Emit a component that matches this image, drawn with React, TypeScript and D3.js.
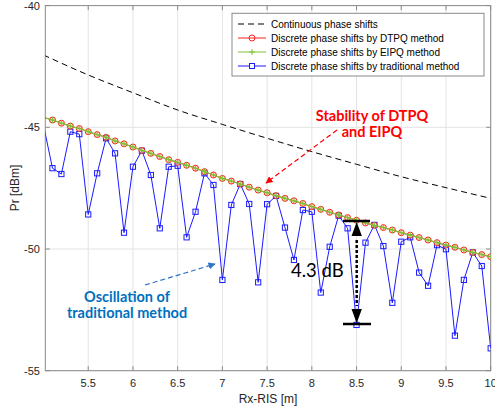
import React from "react";
import * as d3 from "d3";

const xValues = [5.0,5.1,5.2,5.3,5.4,5.5,5.6,5.7,5.8,5.9,6.0,6.1,6.2,6.3,6.4,6.5,6.6,6.7,6.8,6.9,7.0,7.1,7.2,7.3,7.4,7.5,7.6,7.7,7.8,7.9,8.0,8.1,8.2,8.3,8.4,8.5,8.6,8.7,8.8,8.9,9.0,9.1,9.2,9.3,9.4,9.5,9.6,9.7,9.8,9.9,10.0];

const traditional = [-44.91,-46.68,-46.92,-45.18,-45.28,-48.58,-46.89,-45.45,-46.07,-49.33,-46.62,-45.96,-46.96,-49.15,-46.62,-46.58,-49.52,-48.47,-46.89,-47.37,-51.27,-48.19,-47.33,-48.15,-51.37,-48.16,-47.82,-49.12,-50.45,-48.40,-48.47,-51.79,-49.91,-48.63,-49.15,-53.12,-49.74,-49.01,-49.88,-52.21,-49.70,-49.52,-50.97,-51.51,-49.84,-50.01,-53.56,-51.27,-50.14,-50.70,-54.08];

const dtpq = [-44.59,-44.70,-44.83,-44.95,-45.05,-45.18,-45.30,-45.41,-45.56,-45.68,-45.81,-45.95,-46.07,-46.20,-46.33,-46.44,-46.56,-46.68,-46.82,-46.96,-47.10,-47.21,-47.33,-47.46,-47.58,-47.69,-47.81,-47.92,-48.02,-48.13,-48.26,-48.37,-48.49,-48.60,-48.71,-48.82,-48.93,-49.03,-49.12,-49.22,-49.33,-49.43,-49.53,-49.63,-49.74,-49.84,-49.93,-50.04,-50.14,-50.23,-50.32];

const eipq = [-44.59,-44.70,-44.83,-44.95,-45.05,-45.18,-45.30,-45.41,-45.56,-45.68,-45.81,-45.95,-46.07,-46.20,-46.33,-46.44,-46.56,-46.68,-46.82,-46.96,-47.10,-47.21,-47.33,-47.46,-47.58,-47.69,-47.81,-47.92,-48.02,-48.13,-48.26,-48.37,-48.49,-48.60,-48.71,-48.82,-48.93,-49.03,-49.12,-49.22,-49.33,-49.43,-49.53,-49.63,-49.74,-49.84,-49.93,-50.04,-50.14,-50.23,-50.32];

const contX = [5.0,5.5,6.0,6.5,7.0,7.5,8.0,8.5,9.0,9.5,10.0];
const continuous = [-42.03,-42.85,-43.58,-44.29,-44.88,-45.45,-46.0,-46.52,-47.03,-47.48,-47.92];

const xTicks = [5.5,6,6.5,7,7.5,8,8.5,9,9.5,10];
const yTicks = [-55,-50,-45,-40];
const xTickLabels = ["5.5","6","6.5","7","7.5","8","8.5","9","9.5","10"];
const yTickLabels = ["-55","-50","-45","-40"];

const legendLabels = [
  "Continuous phase shifts",
  "Discrete phase shifts by DTPQ method",
  "Discrete phase shifts by EIPQ method",
  "Discrete phase shifts by traditional method",
];

const W = 495, H = 413;
const L = 45.3, R = 490.7, T = 5.6, B = 370.7;
const BLUE = "#1a1aff", RED = "#ff2020", GREEN = "#7cc234";

export default function App() {
  const x = d3.scaleLinear().domain([5.02, 10]).range([L, R]);
  const y = d3.scaleLinear().domain([-55, -40]).range([B, T]);
  const pts = (ys: number[]) => xValues.map((xv, i) => [xv, ys[i]] as [number, number]);
  const line = d3.line<[number, number]>().x(d => x(d[0])).y(d => y(d[1]));
  const contLine = d3.line<[number, number]>().x(d => x(d[0])).y(d => y(d[1])).curve(d3.curveMonotoneX);
  const visible = (xv: number) => xv >= 5.02;
  const font = "'Liberation Sans', Arial, sans-serif";
  const annFont = "Lato, 'Open Sans', sans-serif";

  const legY = [24, 38, 52, 66];
  const lx0 = 238, lx1 = 266, lxm = 252;

  return (
    <svg width={W} height={H} style={{ position: "absolute", left: 0, top: 0, background: "#fff" }}>
      <defs>
        <clipPath id="plot"><rect x={L} y={T} width={R - L} height={B - T} /></clipPath>
        <marker id="arRed" viewBox="0 0 10 10" refX="9" refY="5" markerWidth="6" markerHeight="6" orient="auto">
          <path d="M0,0 L10,5 L0,10 z" fill="#ff0000" />
        </marker>
        <marker id="arBlue" viewBox="0 0 10 10" refX="9" refY="5" markerWidth="6" markerHeight="6" orient="auto">
          <path d="M0,0 L10,5 L0,10 z" fill="#2e75c6" />
        </marker>
      </defs>
      <rect x={0} y={0} width={W} height={H} fill="#fff" />
      {/* grid */}
      {xTicks.map(t => (
        <line key={"gx" + t} x1={x(t)} x2={x(t)} y1={T} y2={B} stroke="#e3e3e3" strokeWidth={1} />
      ))}
      {yTicks.map(t => (
        <line key={"gy" + t} x1={L} x2={R} y1={y(t)} y2={y(t)} stroke="#e3e3e3" strokeWidth={1} />
      ))}
      {/* axes box */}
      <rect x={L} y={T} width={R - L} height={B - T} fill="none" stroke="#8a8a8a" strokeWidth={1} />
      {xTicks.map(t => (
        <g key={"tx" + t}>
          <line x1={x(t)} x2={x(t)} y1={B} y2={B - 4.5} stroke="#8a8a8a" />
          <line x1={x(t)} x2={x(t)} y1={T} y2={T + 4.5} stroke="#8a8a8a" />
        </g>
      ))}
      {yTicks.map(t => (
        <g key={"ty" + t}>
          <line x1={L} x2={L + 4.5} y1={y(t)} y2={y(t)} stroke="#8a8a8a" />
          <line x1={R} x2={R - 4.5} y1={y(t)} y2={y(t)} stroke="#8a8a8a" />
        </g>
      ))}
      {xTicks.map((t, i) => (
        <text key={"lx" + t} x={x(t)} y={387} textAnchor="middle" fontFamily={font} fontSize={11} fill="#262626">{xTickLabels[i]}</text>
      ))}
      {yTicks.map((t, i) => (
        <text key={"ly" + t} x={40} y={y(t) + 4} textAnchor="end" fontFamily={font} fontSize={11} fill="#262626">{yTickLabels[i]}</text>
      ))}
      <text x={268} y={403} textAnchor="middle" fontFamily={font} fontSize={12} fill="#262626">Rx-RIS [m]</text>
      <text transform={`translate(19,188) rotate(-90)`} textAnchor="middle" fontFamily={font} fontSize={12} fill="#262626">Pr [dBm]</text>

      <g clipPath="url(#plot)">
        <path d={contLine(contX.map((c, i) => [c, continuous[i]] as [number, number])) || ""} fill="none" stroke="#000" strokeWidth={1} strokeDasharray="6,4" />
        <path d={line(pts(traditional)) || ""} fill="none" stroke={BLUE} strokeWidth={1} />
        {pts(traditional).filter(p => visible(p[0])).map((p, i) => (
          <rect key={"sq" + i} x={x(p[0]) - 2.6} y={y(p[1]) - 2.6} width={5.2} height={5.2} fill="none" stroke={BLUE} strokeWidth={1} />
        ))}
        <path d={line(pts(dtpq)) || ""} fill="none" stroke={RED} strokeWidth={1} />
        {pts(dtpq).filter(p => visible(p[0])).map((p, i) => (
          <circle key={"ci" + i} cx={x(p[0])} cy={y(p[1])} r={3} fill="#f5c89a" fillOpacity={0.5} stroke={RED} strokeWidth={1} />
        ))}
        <path d={line(pts(eipq)) || ""} fill="none" stroke={GREEN} strokeWidth={1.2} />
        {pts(eipq).filter(p => visible(p[0])).map((p, i) => (
          <path key={"pl" + i} d={`M${x(p[0]) - 3},${y(p[1])}H${x(p[0]) + 3}M${x(p[0])},${y(p[1]) - 3}V${y(p[1]) + 3}`} stroke={GREEN} strokeWidth={1} />
        ))}
      </g>

      {/* legend */}
      <rect x={232} y={13.3} width={252} height={62.7} fill="#fff" stroke="#8a8a8a" strokeWidth={1} />
      <line x1={lx0} x2={lx1} y1={legY[0]} y2={legY[0]} stroke="#000" strokeDasharray="6,4" />
      <line x1={lx0} x2={lx1} y1={legY[1]} y2={legY[1]} stroke={RED} />
      <circle cx={lxm} cy={legY[1]} r={3} fill="none" stroke={RED} />
      <line x1={lx0} x2={lx1} y1={legY[2]} y2={legY[2]} stroke={GREEN} />
      <path d={`M${lxm - 3},${legY[2]}H${lxm + 3}M${lxm},${legY[2] - 3}V${legY[2] + 3}`} stroke={GREEN} />
      <line x1={lx0} x2={lx1} y1={legY[3]} y2={legY[3]} stroke={BLUE} />
      <rect x={lxm - 2.5} y={legY[3] - 2.5} width={5} height={5} fill="#fff" stroke={BLUE} />
      {legendLabels.map((s, i) => (
        <text key={s} x={271} y={legY[i] + 3.6} fontFamily={font} fontSize={10} fill="#000">{s}</text>
      ))}

      {/* annotations */}
      <text x={372} y={120.5} textAnchor="middle" fontFamily={annFont} fontWeight={700} fontSize={14.5} fill="#ff0000">Stability of DTPQ</text>
      <text x={372} y={137} textAnchor="middle" fontFamily={annFont} fontWeight={700} fontSize={14.5} fill="#ff0000">and EIPQ</text>
      <line x1={337} y1={130} x2={266} y2={183} stroke="#ff0000" strokeWidth={1.2} strokeDasharray="5,3" markerEnd="url(#arRed)" />

      <text x={127} y={301.5} textAnchor="middle" fontFamily={annFont} fontWeight={700} fontSize={14.5} fill="#0070c0">Oscillation of</text>
      <text x={127} y={318} textAnchor="middle" fontFamily={annFont} fontWeight={700} fontSize={14.5} fill="#0070c0">traditional method</text>
      <line x1={145} y1={285} x2={215} y2={264} stroke="#2e75c6" strokeWidth={1.2} strokeDasharray="5,3" markerEnd="url(#arBlue)" />

      <text x={291} y={277} fontFamily={annFont} fontSize={18.5} fill="#000">4.3 dB</text>
      <line x1={343} x2={370} y1={221} y2={221} stroke="#000" strokeWidth={2.5} />
      <line x1={343} x2={371} y1={324} y2={324} stroke="#000" strokeWidth={2.5} />
      <line x1={356.7} y1={240} x2={356.7} y2={306} stroke="#000" strokeWidth={2.5} strokeDasharray="3,2" />
      <path d="M356.7,222 L351.5,236 L361.9,236 Z" fill="#000" />
      <path d="M356.7,323 L351.5,309 L361.9,309 Z" fill="#000" />
    </svg>
  );
}
